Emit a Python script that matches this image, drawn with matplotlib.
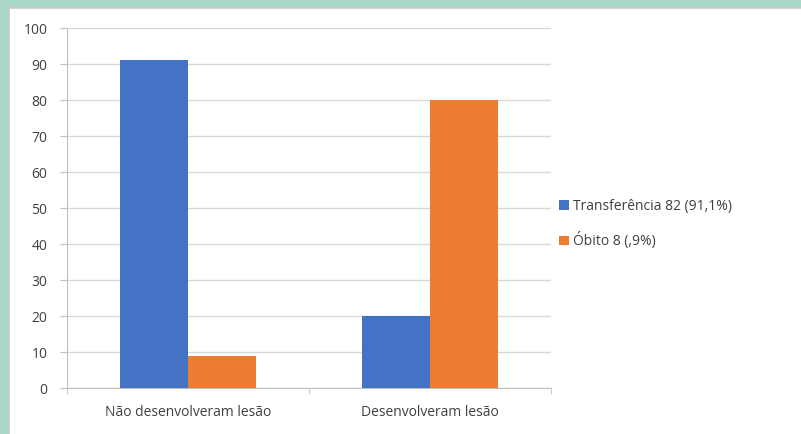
import numpy as np
import matplotlib.pyplot as plt
from matplotlib.patches import Rectangle

categories = ['Não desenvolveram lesão', 'Desenvolveram lesão']
series_names = ['Transferência 82 (91,1%)', 'Óbito 8 (,9%)']
transferencia = [91.1, 20]
obito = [8.9, 80]
colors = ['#4472C4', '#ED7D31']

plt.rcParams['font.family'] = ['Open Sans', 'DejaVu Sans']

fig = plt.figure(figsize=(8.01, 4.34), dpi=100)
fig.patches.append(Rectangle((0, 0), 1, 1, transform=fig.transFigure,
                             facecolor='#a9d8c7', edgecolor='none', zorder=-3))
fig.patches.append(Rectangle((9 / 801, -0.01), 1, 1 - 8 / 434 + 0.01,
                             transform=fig.transFigure, facecolor='white',
                             edgecolor='#c8c8c8', linewidth=1.2, zorder=-2))

ax = fig.add_axes([67 / 801, 46 / 434, 484 / 801, 360 / 434])
ax.set_facecolor('none')

xs = np.arange(len(categories))
w = 68 / 242
ax.bar(xs - w / 2, transferencia, width=w, color=colors[0], label=series_names[0], zorder=3)
ax.bar(xs + w / 2, obito, width=w, color=colors[1], label=series_names[1], zorder=3)

ax.set_xlim(-0.5, 1.5)
ax.set_ylim(0, 100)
ax.set_yticks(np.arange(0, 101, 10))
ax.yaxis.grid(True, color='#d9d9d9', linewidth=1, zorder=0)
ax.set_xticks(xs)
ax.set_xticklabels(categories, fontsize=10, color='#404040')
ax.set_xticks([-0.5, 0.5, 1.5], minor=True)
ax.tick_params(axis='x', which='major', length=0, pad=12)
ax.tick_params(axis='x', which='minor', length=4, color='#bfbfbf')
ax.tick_params(axis='y', length=5, color='#bfbfbf', labelsize=10, labelcolor='#404040', pad=9)
for s in ['top', 'right']:
    ax.spines[s].set_visible(False)
ax.spines['left'].set_color('#bfbfbf')
ax.spines['bottom'].set_color('#bfbfbf')

ax.legend(loc='center left', bbox_to_anchor=(1.0, 0.455), frameon=False,
          fontsize=10, handlelength=0.7, handleheight=0.7, handletextpad=0.3,
          labelspacing=1.3, labelcolor='#404040', borderaxespad=0.2)

fig.savefig('out.png', dpi=100)
